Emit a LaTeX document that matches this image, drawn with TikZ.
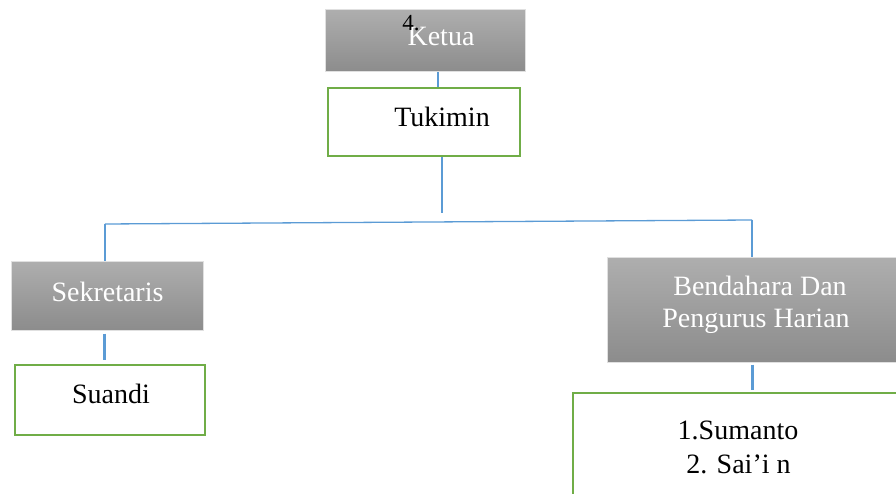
\documentclass[tikz,border=0pt]{standalone}
\usepackage{fontspec}
\setmainfont{Liberation Serif}
\definecolor{conblue}{HTML}{5B9BD5}
\definecolor{boxgreen}{HTML}{70AD47}
\definecolor{gtop}{HTML}{AEAEAE}
\definecolor{gbot}{HTML}{8C8C8C}
\begin{document}
\begin{tikzpicture}[x=1bp,y=-1bp,
  graybox/.style={rectangle, inner sep=0pt, top color=gtop, bottom color=gbot, draw=black!12, line width=1bp},
  greenbox/.style={rectangle, inner sep=0pt, fill=white, draw=boxgreen, line width=2bp},
  wtxt/.style={anchor=base, inner sep=0pt, text=white, font=\fontsize{28bp}{32bp}\selectfont},
  btxt/.style={anchor=base, inner sep=0pt, text=black, font=\fontsize{28bp}{32bp}\selectfont},
  conn/.style={draw=conblue, line width=1.3bp},
  thickconn/.style={draw=conblue, line width=3bp}]
\useasboundingbox (0,0) rectangle (896,494);
% boxes
\node[graybox, minimum width=200bp, minimum height=62bp] (ketua) at (425,41) {};
\node[greenbox, minimum width=192bp, minimum height=68bp] (tukimin) at (424,122) {};
\node[graybox, minimum width=191bp, minimum height=68bp] (sekr) at (107.5,296) {};
\node[greenbox, minimum width=190bp, minimum height=70bp] (suandi) at (110,400) {};
\node[graybox, minimum width=300bp, minimum height=104bp] (bend) at (757,310) {};
\node[greenbox, minimum width=340bp, minimum height=140bp] (anggota) at (743,463) {};
% texts
\node[wtxt] (tketua) at (441,46) {Ketua};
\node[anchor=base, inner sep=0pt, font=\fontsize{23bp}{26bp}\selectfont] (num) at (411,31) {4.};
\node[btxt] (ttuk) at (442,127) {Tukimin};
\node[wtxt] (tsekr) at (107.5,302) {Sekretaris};
\node[btxt] (tsuandi) at (111,403) {Suandi};
\node[wtxt] (tbend1) at (760,296) {Bendahara Dan};
\node[wtxt] (tbend2) at (756,328) {Pengurus Harian};
\node[btxt] (tang1) at (738,439) {1.Sumanto};
\node[btxt] (tang2) at (738.5,473) {2. Sai’i n};
% connectors
\coordinate (hl) at (105,224);
\coordinate (hr) at (752,220);
\coordinate (tukend) at (442,213);
\draw[conn] (ketua.south -| 438,0) -- (tukimin.north -| 438,0);
\draw[conn] (tukimin.south -| 442,0) -- (tukend);
\draw[conn] (hl) -- (hr);
\draw[conn] (hl) -- (sekr.north -| hl);
\draw[conn] (hr) -- (bend.north -| hr);
\draw[thickconn] ([yshift=-3bp]sekr.south -| 104,0) -- ([yshift=4bp]suandi.north -| 104,0);
\draw[thickconn] ([yshift=-2bp]bend.south -| 752,0) -- ([yshift=2bp]anggota.north -| 752,0);
\end{tikzpicture}
\end{document}
